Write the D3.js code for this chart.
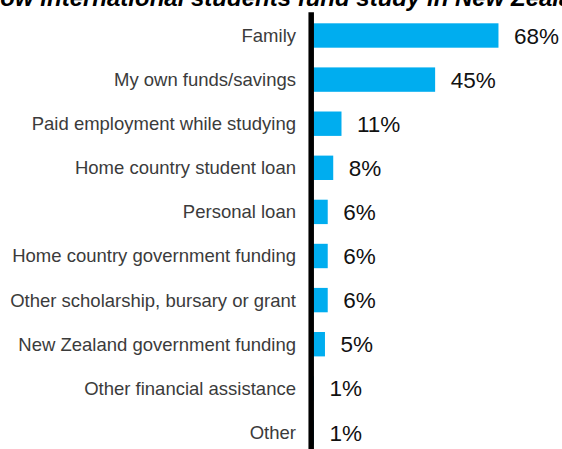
<!DOCTYPE html>
<html>
<head>
<meta charset="utf-8">
<script src="https://cdn.jsdelivr.net/npm/d3@7"></script>
<style>
  html, body { margin: 0; padding: 0; background: #fff; }
  svg { display: block; }
</style>
</head>
<body>
<div id="chart"></div>
<script>
// Sources of funding for international students
const categories = [
  "Family",
  "My own funds/savings",
  "Paid employment while studying",
  "Home country student loan",
  "Personal loan",
  "Home country government funding",
  "Other scholarship, bursary or grant",
  "New Zealand government funding",
  "Other financial assistance",
  "Other"
];
const shares = [68, 45, 11, 8, 6, 6, 6, 5, 1, 1];
const valueLabels = ["68%", "45%", "11%", "8%", "6%", "6%", "6%", "5%", "1%", "1%"];
const title = "How international students fund study in New Zealand";

const width = 562, height = 449;
const data = categories.map((c, i) => ({ name: c, value: shares[i], label: valueLabels[i] }));

const svg = d3.select("#chart").append("svg")
  .attr("width", width)
  .attr("height", height);

const x = d3.scaleLinear().domain([0, 100]).range([311.2, 586.6]);
const y = d3.scaleBand()
  .domain(categories)
  .range([13.45, 454.45])
  .paddingInner(0.447)
  .paddingOuter(0.2235);

// Title, running off the top edge
svg.append("text")
  .attr("x", -17)
  .attr("y", 6)
  .attr("font-family", "Liberation Sans, Arial, sans-serif")
  .attr("font-weight", "bold")
  .attr("font-style", "italic")
  .attr("font-size", 24)
  .attr("fill", "#000")
  .text(title);

// Bars
svg.append("g").selectAll("rect")
  .data(data)
  .join("rect")
  .attr("x", x(0))
  .attr("y", d => y(d.name))
  .attr("width", d => x(d.value) - x(0))
  .attr("height", y.bandwidth())
  .attr("fill", "#00ADEF");

// Category labels
svg.append("g").selectAll("text")
  .data(data)
  .join("text")
  .attr("x", 296)
  .attr("y", d => y(d.name) + y.bandwidth() / 2)
  .attr("dy", "0.35em")
  .attr("text-anchor", "end")
  .attr("font-family", "Liberation Sans, Arial, sans-serif")
  .attr("font-size", 18.5)
  .attr("fill", "#3b3b3b")
  .text(d => d.name);

// Value labels
svg.append("g").selectAll("text")
  .data(data)
  .join("text")
  .attr("x", d => x(d.value) + 15.5)
  .attr("y", d => y(d.name) + y.bandwidth() / 2)
  .attr("dy", "0.36em")
  .attr("font-family", "Liberation Sans, Arial, sans-serif")
  .attr("font-size", 22.5)
  .attr("fill", "#111")
  .text(d => d.label);

// Heavy vertical baseline, drawn over the bar roots
svg.append("line")
  .attr("x1", 311.2).attr("x2", 311.2)
  .attr("y1", 12.3).attr("y2", height)
  .attr("stroke", "#000")
  .attr("stroke-width", 5.5);
</script>
</body>
</html>
